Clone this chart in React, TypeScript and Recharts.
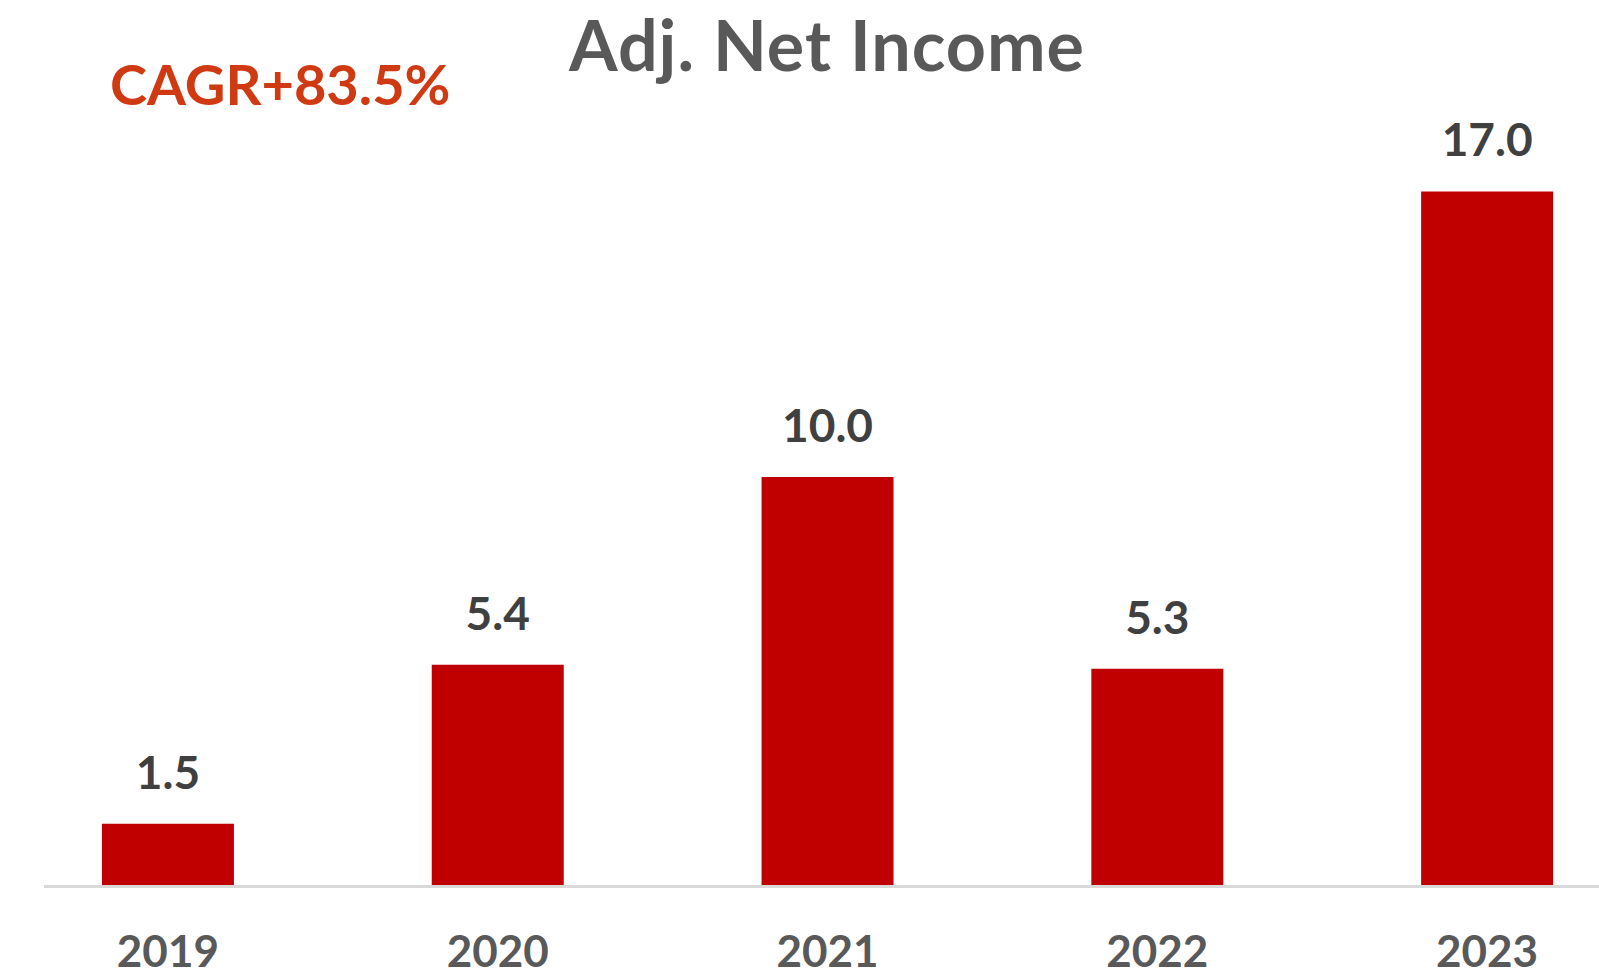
import React from 'react';
import { BarChart, Bar, XAxis, YAxis, LabelList } from 'recharts';

const years = ['2019', '2020', '2021', '2022', '2023'];
const netIncome = [1.5, 5.4, 10.0, 5.3, 17.0];

const FONT = 'Lato, "Open Sans", sans-serif';

const COLORS = {
  bar: '#C00000',
  label: '#404040',
  axisText: '#595959',
  axisLine: '#D9D9D9',
  cagr: '#D03A12',
};

const data = years.map((year, i) => ({ year, value: netIncome[i] }));

export default function App() {
  return (
    <div style={{ position: 'absolute', left: 0, top: 0, width: 1599, height: 977, background: '#fff', overflow: 'hidden' }}>
      <BarChart
        width={1599}
        height={977}
        data={data}
        margin={{ top: 69, right: 0, bottom: 0, left: 44 }}
        barCategoryGap="30%"
      >
        <XAxis
          dataKey="year"
          height={92}
          padding={{ left: -41, right: -53 }}
          axisLine={{ stroke: COLORS.axisLine, strokeWidth: 3, transform: 'translate(0, 1.5)' }}
          tickLine={false}
          tickSize={0}
          tickMargin={51}
          tick={{ fill: COLORS.axisText, fontSize: 44, fontWeight: 700, fontFamily: FONT }}
        />
        <YAxis hide domain={[0, 20]} />
        <Bar dataKey="value" fill={COLORS.bar} isAnimationActive={false}>
          <LabelList
            dataKey="value"
            position="top"
            offset={35}
            formatter={(v: any) => Number(v).toFixed(1)}
            style={{ fill: COLORS.label, fontSize: 46, fontWeight: 700, fontFamily: FONT }}
          />
        </Bar>
      </BarChart>
      <svg width={1599} height={977} style={{ position: 'absolute', left: 0, top: 0, pointerEvents: 'none' }}>
        <text x={827} y={71} textAnchor="middle" fill={COLORS.axisText} fontSize={70} fontWeight={700} fontFamily={FONT} letterSpacing={1}>
          Adj. Net Income
        </text>
        <text x={110} y={105} textAnchor="start" fill={COLORS.cagr} fontSize={56} fontWeight={700} fontFamily={FONT}>
          CAGR+83.5%
        </text>
      </svg>
    </div>
  );
}
